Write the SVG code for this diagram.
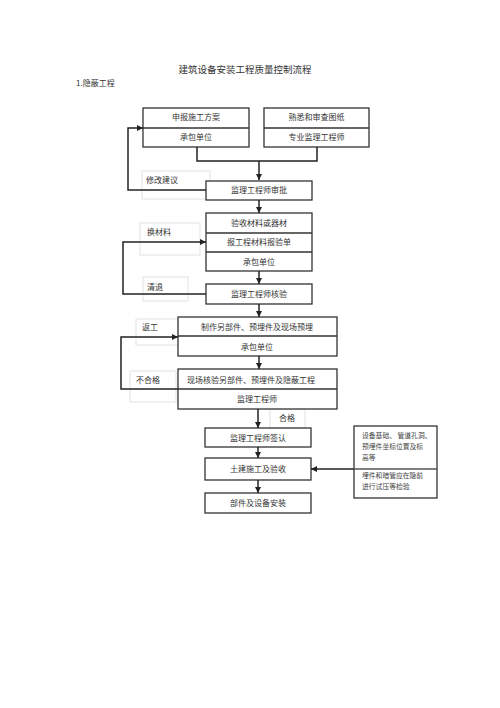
<svg xmlns="http://www.w3.org/2000/svg" width="500" height="708" viewBox="0 0 500 708">
<style>
.box{fill:#fff;stroke:#333;stroke-width:1.3}
.div{stroke:#333;stroke-width:1.3}
.lbl{fill:none;stroke:#e2e2e2;stroke-width:1}
.t{font-family:"Noto Sans CJK SC","Noto Sans",sans-serif;font-size:8px;fill:#333;text-anchor:middle}
.tl{font-family:"Noto Sans CJK SC","Noto Sans",sans-serif;font-size:8px;fill:#333}
.ts{font-family:"Noto Sans CJK SC","Noto Sans",sans-serif;font-size:6.8px;fill:#444}
.conn{fill:none;stroke:#222;stroke-width:1.5}
</style>
<defs>
<marker id="ah" viewBox="0 0 10 10" refX="10" refY="5" markerWidth="4" markerHeight="4" orient="auto" markerUnits="strokeWidth">
<path d="M0,0 L10,5 L0,10 z" fill="#222"/>
</marker>
</defs>
<rect width="500" height="708" fill="#fff"/>
<text x="245" y="72.5" style="font-family:'Noto Sans CJK SC','Noto Sans',sans-serif;font-size:9.5px;fill:#333;text-anchor:middle">建筑设备安装工程质量控制流程</text>
<text x="76" y="86" class="tl">1.隐蔽工程</text>

<g id="labels">
<g id="lbl-xiugai"><rect class="lbl" x="142" y="171" width="68" height="28"/><text class="tl" x="146" y="183">修改建议</text></g>
<g id="lbl-huancailiao"><rect class="lbl" x="140" y="223" width="60" height="32"/><text class="tl" x="147" y="235">换材料</text></g>
<g id="lbl-qingtui"><rect class="lbl" x="143" y="277" width="45" height="24"/><text class="tl" x="147" y="290">清退</text></g>
<g id="lbl-fangong"><rect class="lbl" x="136" y="319" width="42" height="26"/><text class="tl" x="142" y="330">返工</text></g>
<g id="lbl-buhege"><rect class="lbl" x="130" y="371" width="46" height="31"/><text class="tl" x="136" y="383">不合格</text></g>
<g id="lbl-hege"><rect class="lbl" x="270" y="409" width="35" height="19"/><text class="t" x="287" y="421">合格</text></g>
</g>

<g id="n1"><rect class="box" x="143" y="108" width="106" height="39"/><line class="div" x1="143" y1="128" x2="249" y2="128"/><text class="t" x="196" y="120">申报施工方案</text><text class="t" x="196" y="140">承包单位</text></g>
<g id="n2"><rect class="box" x="264" y="108" width="105" height="39"/><line class="div" x1="264" y1="128" x2="369" y2="128"/><text class="t" x="316.5" y="120">熟悉和审查图纸</text><text class="t" x="316.5" y="140">专业监理工程师</text></g>
<g id="n3"><rect class="box" x="206" y="181" width="106" height="19"/><text class="t" x="259" y="193">监理工程师审批</text></g>
<g id="n4"><rect class="box" x="206" y="213" width="106" height="58"/><line class="div" x1="206" y1="233" x2="312" y2="233"/><line class="div" x1="206" y1="252" x2="312" y2="252"/><text class="t" x="259" y="226">验收材料或器材</text><text class="t" x="259" y="245">报工程材料报验单</text><text class="t" x="259" y="265">承包单位</text></g>
<g id="n5"><rect class="box" x="206" y="284" width="106" height="20"/><text class="t" x="259" y="297">监理工程师核验</text></g>
<g id="n6"><rect class="box" x="178" y="317" width="159" height="39"/><line class="div" x1="178" y1="336" x2="337" y2="336"/><text class="t" x="257" y="330">制作另部件、预埋件及现场预埋</text><text class="t" x="257" y="350">承包单位</text></g>
<g id="n7"><rect class="box" x="178" y="369" width="159" height="40"/><line class="div" x1="178" y1="389" x2="337" y2="389" style="stroke-width:1.6"/><text class="t" x="251" y="383">现场核验另部件、预埋件及隐蔽工程</text><text class="t" x="257" y="402">监理工程师</text></g>
<g id="n8"><rect class="box" x="205" y="428" width="106" height="19"/><text class="t" x="258" y="441">监理工程师签认</text></g>
<g id="n9"><rect class="box" x="205" y="458" width="106" height="22"/><text class="t" x="258" y="472">土建施工及验收</text></g>
<g id="n10"><rect class="box" x="205" y="493" width="106" height="20"/><text class="t" x="258" y="506">部件及设备安装</text></g>
<g id="n11"><rect class="box" x="354" y="426" width="83" height="72"/><line class="div" x1="354" y1="469" x2="437" y2="469" style="stroke:#555"/>
<text class="ts" x="362" y="437.5">设备基础、 管道孔洞、</text>
<text class="ts" x="362" y="448.5">预埋件坐标位置及标</text>
<text class="ts" x="362" y="459.5">高等</text>
<text class="ts" x="362" y="477.5">埋件和暗管应在隐前</text>
<text class="ts" x="362" y="488.5">进行试压等检验</text></g>

<g id="connectors">
<path class="conn" d="M197,147 V161 H317 V147"/>
<path class="conn" d="M259,161 V180" marker-end="url(#ah)"/>
<path class="conn" d="M206,190 H128 V128 H143" marker-end="url(#ah)"/>
<path class="conn" d="M259,200 V213" marker-end="url(#ah)"/>
<path class="conn" d="M259,271 V284" marker-end="url(#ah)"/>
<path class="conn" d="M206,294 H123 V242 H206" marker-end="url(#ah)"/>
<path class="conn" d="M259,304 V317" marker-end="url(#ah)"/>
<path class="conn" d="M259,356 V369" marker-end="url(#ah)"/>
<path class="conn" d="M178,389 H121 V337 H178" marker-end="url(#ah)"/>
<path class="conn" d="M258,409 V428" marker-end="url(#ah)"/>
<path class="conn" d="M258,447 V458" marker-end="url(#ah)"/>
<path class="conn" d="M258,480 V493" marker-end="url(#ah)"/>
<path class="conn" d="M354,469 H311" marker-end="url(#ah)"/>
</g>
</svg>
